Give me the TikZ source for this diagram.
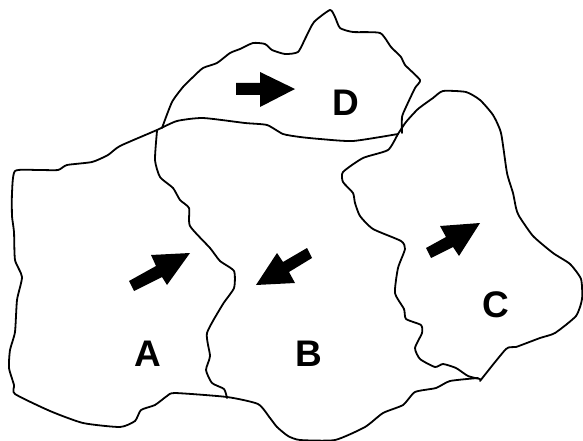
\documentclass[tikz,border=0pt]{standalone}
\usepackage{fontspec}
\setmainfont{Liberation Sans}
\tikzset{
  border/.style={draw=black,line width=1.8pt,line join=round,line cap=round,smooth,tension=0.35},
  blockarrow/.style={fill=black,draw=none},
  region/.style={font=\fontsize{37}{37}\selectfont\bfseries,inner sep=0pt,text=black,anchor=center}
}
\begin{document}
\begin{tikzpicture}[x=1pt,y=-1pt]
\useasboundingbox (0,0) rectangle (583,441);
% outer boundary of A and B
\draw[border] plot coordinates {(398,134)(353,141)(320,139)(300,137)(283,134)(267,125)(245,123)(203,118)(177,121)(157,130)(120,146)(108,155)(92,162)(67,165)(58,170)(38,170)(15,171)(12,193)(12,216)(14,232)(15,260)(22,277)(17,300)(15,332)(10,350)(9,368)(14,385)(15,394)(50,411)(83,423)(120,427)(135,421)(141,410)(155,405)(167,396)(175,393)(227,397)(258,404)(270,418)(277,427)(288,436)(300,440)(335,440)(365,427)(383,413)(403,405)(415,392)(436,388)(450,381)(478,378)};
% C
\draw[border] plot coordinates {(480,381)(506,349)(516,347)(540,338)(555,333)(576,316)(582,299)(581,279)(570,264)(553,253)(533,236)(519,216)(516,208)(513,193)(507,173)(501,133)(493,115)(480,100)(466,92)(443,91)(433,98)(418,109)(406,122)(398,134)(388,150)(363,158)(343,172)(343,182)(353,193)(355,203)(360,216)(373,229)(401,241)(405,249)(398,268)(395,293)(404,309)(406,319)(421,325)(422,333)(415,348)(420,359)(435,367)(443,364)(456,368)(468,376)(480,379)};
% D
\draw[border] plot coordinates {(162,128)(172,102)(183,87)(192,78)(203,68)(217,63)(230,53)(240,49)(253,43)(265,44)(272,50)(285,54)(298,52)(306,37)(314,22)(330,10)(335,17)(340,28)(353,32)(380,33)(391,47)(401,57)(405,65)(420,80)(415,88)(406,107)(402,117)(402,133)};
% A / B divide
\draw[border] plot coordinates {(157,131)(155,160)(160,177)(173,188)(180,200)(189,208)(190,226)(210,248)(220,261)(234,271)(234,288)(223,304)(207,333)(210,356)(206,370)(212,383)(224,389)(227,398)};
% arrows
\fill[blockarrow] (129,281)--(156,266)--(151,255)--(190,253)--(167,285)--(162,277)--(134,291)--cycle;
\fill[blockarrow] (256,285)--(277,253)--(283,262)--(307,248)--(312,258)--(289,272)--(295,283)--cycle;
\fill[blockarrow] (426,248)--(446,237)--(440,226)--(480,223)--(459,256)--(453,247)--(431,258)--cycle;
\fill[blockarrow] (236,83)--(260,83)--(260,72)--(295,89)--(260,107)--(260,95)--(236,95)--cycle;
% labels
\node[region] (labelA) at (148,354) {A};
\node[region] (labelB) at (309,354) {B};
\node[region] (labelC) at (496,305) {C};
\node[region] (labelD) at (346,102.5) {D};
\end{tikzpicture}
\end{document}
